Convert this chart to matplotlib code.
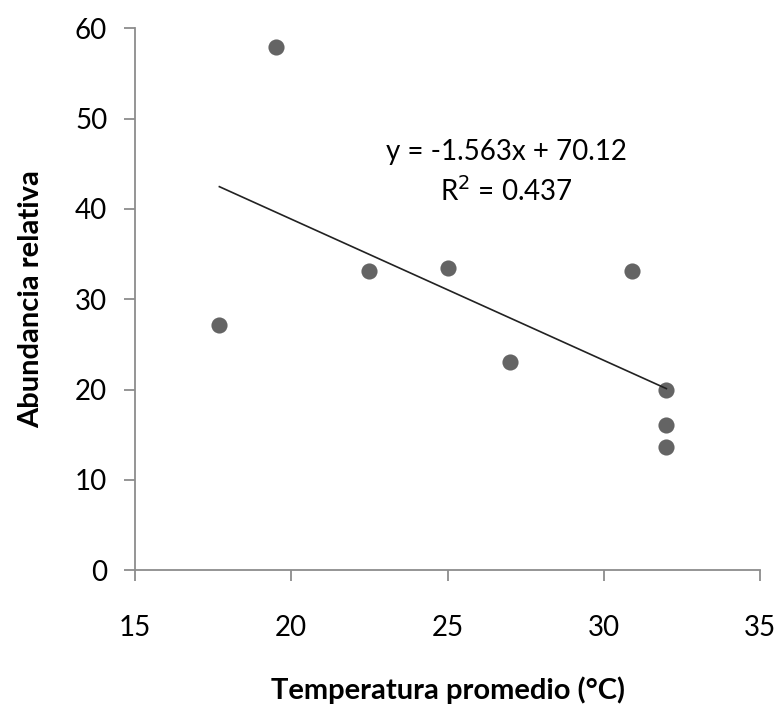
import matplotlib
matplotlib.use("Agg")
import matplotlib.pyplot as plt
import numpy as np

temperature = [17.7, 19.5, 22.5, 25.0, 27.0, 30.9, 32.0, 32.0, 32.0]
abundance = [27.1, 57.9, 33.1, 33.4, 23.1, 33.1, 20.0, 16.1, 13.6]
slope = -1.563
intercept = 70.12
r2 = 0.437
x_ticks = [15, 20, 25, 30, 35]
y_ticks = [0, 10, 20, 30, 40, 50, 60]

plt.rcParams['font.family'] = ['Lato', 'DejaVu Sans']

fig = plt.figure(figsize=(7.78, 7.04), dpi=100)
ax = fig.add_axes([0.1735, 0.19, 0.8035, 0.77])

ax.scatter(temperature, abundance, s=135, color='#646464', zorder=3, linewidths=0)
xs = np.array([min(temperature), max(temperature)])
ax.plot(xs, slope * xs + intercept, color='#222222', linewidth=1.2, zorder=4)

ax.set_xlim(15, 35)
ax.set_ylim(0, 60)
ax.set_xticks(x_ticks)
ax.set_yticks(y_ticks)

for s in ['top', 'right']:
    ax.spines[s].set_visible(False)
for s in ['left', 'bottom']:
    ax.spines[s].set_color('#8c8c8c')
    ax.spines[s].set_linewidth(1.3)
ax.tick_params(axis='both', direction='out', length=8, width=1.3, color='#8c8c8c',
               labelsize=20)
ax.tick_params(axis='x', pad=24)
ax.tick_params(axis='y', pad=12)

ax.text(26.9, 46.3, f"y = {slope}x + {intercept}", ha='center', va='center', fontsize=20)
ax.text(26.9, 42.0, f"R$^2$ = {r2}", ha='center', va='center', fontsize=20)

ax.set_xlabel("Temperatura promedio (°C)", fontsize=21, fontweight='bold', labelpad=26)
ax.set_ylabel("Abundancia relativa", fontsize=21, fontweight='bold', labelpad=22)

fig.savefig("out.png", dpi=100)
